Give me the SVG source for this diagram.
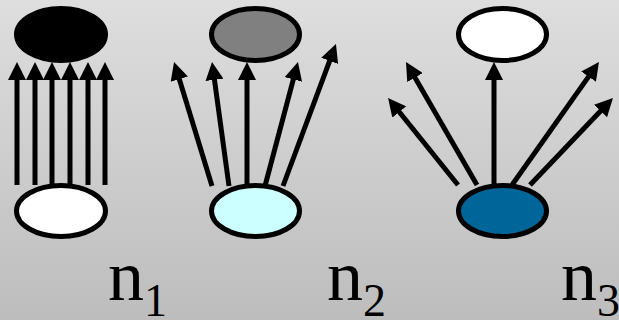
<svg xmlns="http://www.w3.org/2000/svg" width="619" height="320" viewBox="0 0 619 320">
<defs>
<linearGradient id="bg" x1="0" y1="0" x2="0" y2="1">
<stop offset="0" stop-color="#dedede"/>
<stop offset="1" stop-color="#bdbdbd"/>
</linearGradient>
<marker id="ah" viewBox="0 0 18 18" markerWidth="18" markerHeight="18" markerUnits="userSpaceOnUse" refX="8" refY="9" orient="auto">
<path d="M0,0 L18,9 L0,18 z" fill="#000"/>
</marker>
<style>
.n{stroke:#000;stroke-width:5}
.c line{stroke:#000;stroke-width:5;marker-end:url(#ah)}
.lbl{font-family:"Liberation Serif","Times New Roman",serif;font-size:72px;fill:#000}
.sub{font-size:46px}
</style>
</defs>
<rect width="619" height="320" fill="url(#bg)"/>
<g id="connectors" class="c">
<line x1="17" y1="185" x2="17" y2="72"/>
<line x1="35" y1="185" x2="35" y2="72"/>
<line x1="52" y1="185" x2="52" y2="72"/>
<line x1="70" y1="185" x2="70" y2="72"/>
<line x1="88" y1="185" x2="88" y2="72"/>
<line x1="105" y1="185" x2="105" y2="72"/>
<line x1="212" y1="186" x2="176.97" y2="71.55"/>
<line x1="229" y1="186" x2="213.38" y2="71.9"/>
<line x1="247" y1="186" x2="247" y2="72"/>
<line x1="265" y1="186" x2="295.39" y2="71.65"/>
<line x1="283" y1="186" x2="332.46" y2="53.35"/>
<line x1="458" y1="185" x2="394.31" y2="105.75"/>
<line x1="477" y1="185" x2="411.03" y2="70.64"/>
<line x1="494" y1="186" x2="494" y2="72"/>
<line x1="512" y1="185" x2="593.19" y2="70.14"/>
<line x1="530" y1="185" x2="606.06" y2="105.2"/>
</g>
<g id="n1-top"><ellipse class="n" cx="61" cy="34.5" rx="44.5" ry="26" fill="#000"/></g>
<g id="n1-bottom"><ellipse class="n" cx="61" cy="211" rx="44.5" ry="25.5" fill="#fff"/></g>
<g id="n2-top"><ellipse class="n" cx="255.5" cy="34.5" rx="44" ry="26" fill="#808080"/></g>
<g id="n2-bottom"><ellipse class="n" cx="255.5" cy="211" rx="44" ry="25.5" fill="#ccffff"/></g>
<g id="n3-top"><ellipse class="n" cx="502.5" cy="34.5" rx="44" ry="26" fill="#fff"/></g>
<g id="n3-bottom"><ellipse class="n" cx="502.5" cy="211" rx="44" ry="25.5" fill="#006699"/></g>
<g id="labels">
<text class="lbl" x="108" y="300">n<tspan class="sub" dy="16">1</tspan></text>
<text class="lbl" x="327" y="300">n<tspan class="sub" dy="16">2</tspan></text>
<text class="lbl" x="561" y="300">n<tspan class="sub" dy="16">3</tspan></text>
</g>
</svg>
